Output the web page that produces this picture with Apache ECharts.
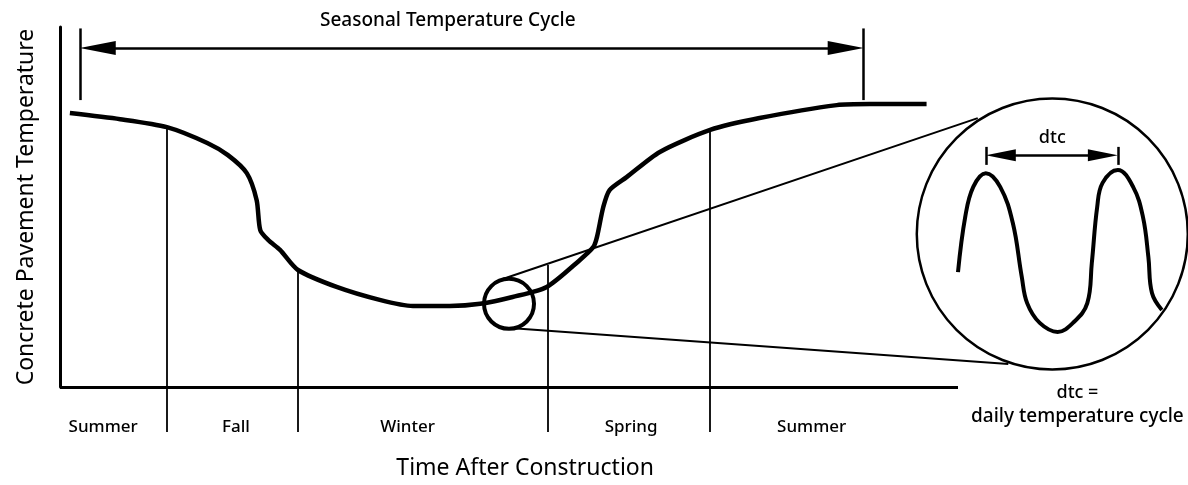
<!DOCTYPE html>
<html>
<head>
<meta charset="UTF-8">
<title>Seasonal Temperature Cycle</title>
<script src="https://cdn.jsdelivr.net/npm/echarts@6/dist/echarts.min.js"></script>
<style>
	html, body { margin: 0; padding: 0; background: #fff; }
	#chart { width: 1188px; height: 485px; }
</style>
</head>
<body>
<div id="chart"></div>
<script>
// x = time after construction (0..100 along the drawn axis), y = pavement temperature (0..100)
var curveTime = [1.1, 6.7, 11.9, 16.4, 18.7, 20.8, 21.9, 22.3, 23.2, 24.5, 26.5, 30.8, 35.6, 39.3, 43.4, 46.8, 50.4, 54.2, 57.9, 59.4, 59.8, 60.5, 61.2, 63.1, 66.8, 72.4, 77.9, 86.5, 90.2, 96.5];
var curveTemp = [76.1, 74.4, 72.2, 67.8, 64.4, 59.4, 51.9, 43.6, 40.8, 38.1, 32.5, 27.8, 24.2, 22.5, 22.5, 23.1, 25.0, 27.8, 35.3, 38.9, 41.7, 50.0, 54.7, 58.3, 65.3, 71.4, 74.7, 78.3, 78.6, 78.6];

var seasonNames = ['Summer', 'Fall', 'Winter', 'Spring', 'Summer'];
var seasonLabelTime = [4.8, 19.6, 38.7, 63.6, 83.7];
var seasonLabelTemp = -11.1;
var seasonBounds = [11.9, 26.5, 54.3, 72.3];
var boundTop = [72.2, 32.5, 33.9, 71.4];
var boundBottom = -12.5;

var cycleSpan = [2.2, 89.5];
var cycleTemp = 94.2;
var cycleTickTemp = [79.7, 99.6];

var zoomCentre = [50.0, 23.1];
var insetCentre = [110.5, 42.5];
var tangentUpper = [[49.3, 30.0], [102.2, 74.7]];
var tangentLower = [[50.1, 16.4], [105.6, 6.4]];

// daily cycle drawn inside the magnified circle
var dailyTime = [100.0, 100.8, 101.7, 103.1, 104.7, 106.1, 107.1, 107.7, 109.1, 111.1, 112.8, 114.4, 114.9, 115.5, 116.1, 117.8, 119.5, 120.6, 121.2, 121.6, 122.7];
var dailyTemp = [31.9, 47.2, 55.6, 59.4, 55.6, 45.6, 30.6, 23.3, 17.8, 15.3, 17.8, 23.3, 34.4, 50.0, 56.7, 60.3, 55.6, 47.2, 36.1, 26.1, 21.4];
var dtcSpan = [103.1, 117.8];
var dtcTemp = 64.4;
var dtcTickTemp = [61.7, 66.7];

var xMax = 125;
var gridW = 1122.5;
var unitPerPx = xMax / gridW;

var chart = echarts.init(document.getElementById('chart'));

function pairs(xs, ys) {
	var out = [];
	for (var i = 0; i < xs.length; i++) out.push([xs[i], ys[i]]);
	return out;
}

function segs(list) {
	return list.map(function (c) { return { coords: c }; });
}

var dividerSegs = [];
for (var i = 0; i < seasonBounds.length; i++) {
	dividerSegs.push([[seasonBounds[i], boundTop[i]], [seasonBounds[i], boundBottom]]);
}

var cycleHead = 18 * unitPerPx;
var dtcHead = 15 * unitPerPx;

var textData = [];
for (var i = 0; i < seasonNames.length; i++) {
	textData.push({ name: seasonNames[i], value: [seasonLabelTime[i], seasonLabelTemp], label: { fontSize: 17 } });
}
textData.push({ name: 'Time After Construction', value: [51.8, -22.5], label: { fontSize: 23, fontWeight: 'normal' } });
textData.push({ name: 'dtc', value: [110.5, 69.2], label: { fontSize: 18 } });
textData.push({ name: 'dtc =', value: [113.3, -1.7], label: { fontSize: 18 } });
textData.push({ name: 'daily temperature cycle', value: [113.3, -8.3], label: { fontSize: 19 } });

var lineBase = {
	type: 'lines',
	coordinateSystem: 'cartesian2d',
	clip: false,
	silent: true,
	animation: false
};

var option = {
	animation: false,
	textStyle: { fontFamily: 'Noto Sans', color: '#000' },
	title: {
		text: 'Seasonal Temperature Cycle',
		left: 315,
		top: 6,
		textStyle: { fontSize: 19, fontWeight: 500, color: '#000', fontFamily: 'Noto Sans' }
	},
	grid: { left: 60, right: 5.5, top: 27, bottom: 98 },
	xAxis: {
		type: 'value', min: 0, max: xMax,
		axisLine: { show: false }, axisTick: { show: false },
		axisLabel: { show: false }, splitLine: { show: false }
	},
	yAxis: {
		type: 'value', min: 0, max: 100,
		name: 'Concrete Pavement Temperature',
		nameLocation: 'middle',
		nameRotate: 90,
		nameGap: 22,
		nameTextStyle: { fontSize: 23, color: '#000', fontFamily: 'Noto Sans' },
		axisLine: { show: true, lineStyle: { color: '#000', width: 3 } },
		axisTick: { show: false }, axisLabel: { show: false }, splitLine: { show: false }
	},
	series: [
		Object.assign({}, lineBase, {
			data: segs([[[0, 0], [100, 0]]]),
			lineStyle: { color: '#000', width: 3, opacity: 1 }
		}),
		Object.assign({}, lineBase, {
			data: segs(dividerSegs),
			lineStyle: { color: '#000', width: 1.8, opacity: 1 }
		}),
		Object.assign({}, lineBase, {
			data: segs([
				[[cycleSpan[0], cycleTickTemp[0]], [cycleSpan[0], cycleTickTemp[1]]],
				[[cycleSpan[1], cycleTickTemp[0]], [cycleSpan[1], cycleTickTemp[1]]],
				[[dtcSpan[0], dtcTickTemp[0]], [dtcSpan[0], dtcTickTemp[1]]],
				[[dtcSpan[1], dtcTickTemp[0]], [dtcSpan[1], dtcTickTemp[1]]]
			]),
			lineStyle: { color: '#000', width: 2.5, opacity: 1 }
		}),
		Object.assign({}, lineBase, {
			data: segs([[[cycleSpan[0] + cycleHead, cycleTemp], [cycleSpan[1] - cycleHead, cycleTemp]]]),
			symbol: ['triangle', 'triangle'],
			symbolSize: [[14, 36], [14, 36]],
			lineStyle: { color: '#000', width: 2.5, opacity: 1 }
		}),
		Object.assign({}, lineBase, {
			data: segs([[[dtcSpan[0] + dtcHead, dtcTemp], [dtcSpan[1] - dtcHead, dtcTemp]]]),
			symbol: ['triangle', 'triangle'],
			symbolSize: [[12, 30], [12, 30]],
			lineStyle: { color: '#000', width: 2.5, opacity: 1 }
		}),
		Object.assign({}, lineBase, {
			data: segs([tangentUpper, tangentLower]),
			lineStyle: { color: '#000', width: 2, opacity: 1 }
		}),
		{
			type: 'line',
			data: pairs(curveTime, curveTemp),
			showSymbol: false,
			smooth: 0.25,
			clip: false,
			silent: true,
			lineStyle: { color: '#000', width: 4.5 }
		},
		{
			type: 'line',
			data: pairs(dailyTime, dailyTemp),
			showSymbol: false,
			smooth: 0.4,
			clip: false,
			silent: true,
			lineStyle: { color: '#000', width: 4 }
		},
		{
			type: 'scatter',
			data: [zoomCentre],
			symbolSize: 50,
			clip: false,
			silent: true,
			itemStyle: { color: 'rgba(0,0,0,0)', borderColor: '#000', borderWidth: 4, opacity: 1 }
		},
		{
			type: 'scatter',
			data: [insetCentre],
			symbolSize: 271,
			clip: false,
			silent: true,
			itemStyle: { color: 'rgba(0,0,0,0)', borderColor: '#000', borderWidth: 2.5, opacity: 1 }
		},
		{
			type: 'scatter',
			data: textData,
			symbolSize: 1,
			clip: false,
			silent: true,
			itemStyle: { color: 'rgba(0,0,0,0)', opacity: 1 },
			label: {
				show: true,
				position: 'inside',
				formatter: '{b}',
				color: '#000',
				fontWeight: 500,
				fontFamily: 'Noto Sans'
			}
		}
	]
};

chart.setOption(option);
</script>
</body>
</html>
